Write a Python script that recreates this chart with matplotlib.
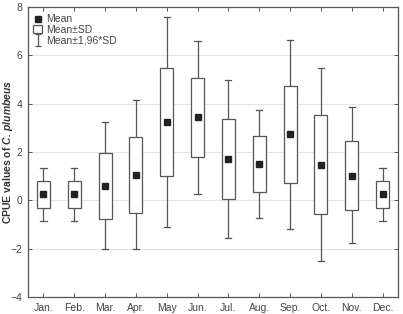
"""
plot.py - monthly CPUE box chart (mean, mean±SD, mean±1.96*SD).
"""

import matplotlib
matplotlib.use("Agg")
import matplotlib.pyplot as plt
from matplotlib.lines import Line2D
from matplotlib.patches import Patch, Rectangle
from matplotlib.path import Path

months = ["Jan.", "Feb.", "Mar.", "Apr.", "May", "Jun.",
          "Jul.", "Aug.", "Sep.", "Oct.", "Nov.", "Dec."]
mean = [0.27, 0.27, 0.60, 1.05, 3.25, 3.43, 1.72, 1.49, 2.74, 1.48, 1.02, 0.26]
sd_hi = [0.79, 0.79, 1.95, 2.63, 5.46, 5.05, 3.38, 2.66, 4.73, 3.54, 2.46, 0.80]
sd_lo = [-0.32, -0.32, -0.76, -0.51, 1.02, 1.80, 0.06, 0.35, 0.73, -0.55, -0.41, -0.32]
ci_hi = [1.34, 1.34, 3.24, 4.15, 7.60, 6.60, 4.97, 3.75, 6.64, 5.49, 3.86, 1.34]
ci_lo = [-0.84, -0.84, -2.02, -2.02, -1.12, 0.27, -1.55, -0.73, -1.17, -2.51, -1.78, -0.84]

plt.rcParams["font.family"] = ["Liberation Sans", "DejaVu Sans"]
plt.rcParams["mathtext.fontset"] = "custom"
plt.rcParams["mathtext.bfit"] = "Liberation Sans:bold:italic"

LINE = "#555555"
TEXT = "#444444"

fig = plt.figure(figsize=(4.03, 3.14), dpi=100)
ax = fig.add_axes([0.0695, 0.054, 0.918, 0.924])

box_w = 0.42
cap_w = 0.2
for i, m in enumerate(mean):
    x = i + 1
    ax.plot([x, x], [sd_hi[i], ci_hi[i]], color=LINE, lw=0.9, zorder=2)
    ax.plot([x, x], [ci_lo[i], sd_lo[i]], color=LINE, lw=0.9, zorder=2)
    ax.plot([x - cap_w / 2, x + cap_w / 2], [ci_hi[i]] * 2, color=LINE, lw=0.9, zorder=2)
    ax.plot([x - cap_w / 2, x + cap_w / 2], [ci_lo[i]] * 2, color=LINE, lw=0.9, zorder=2)
    ax.add_patch(Rectangle((x - box_w / 2, sd_lo[i]), box_w, sd_hi[i] - sd_lo[i],
                           facecolor="white", edgecolor=LINE, lw=0.9, zorder=3))
ax.plot(range(1, 13), mean, ls="none", marker="s", ms=4.5, color="#222222", zorder=4)

ax.set_xlim(0.5, 12.5)
ax.set_ylim(-4, 8)
ax.set_xticks(range(1, 13))
ax.set_xticklabels(months)
ax.set_yticks(range(-4, 9, 2))
ax.yaxis.grid(True, color="#e4e4e4", lw=0.8)
ax.set_axisbelow(True)
ax.tick_params(direction="in", length=3, width=0.7, color=LINE,
               labelsize=7.5, labelcolor=TEXT, top=True, right=True, pad=4)
for s in ax.spines.values():
    s.set_color(LINE)
    s.set_linewidth(0.9)

ax.set_ylabel(r"CPUE values of $\mathbfit{C.\,plumbeus}$", fontsize=7.5,
              fontweight="bold", color="#333333", va="center")
ax.yaxis.set_label_coords(-0.053, 0.5)

ibeam = Path([(-0.5, 1), (0.5, 1), (0, 1), (0, -1), (-0.5, -1), (0.5, -1)],
             [Path.MOVETO, Path.LINETO, Path.MOVETO, Path.LINETO, Path.MOVETO, Path.LINETO])
handles = [
    Line2D([], [], ls="none", marker="s", ms=4, color="#222222"),
    Patch(facecolor="white", edgecolor=LINE, lw=0.9),
    Line2D([], [], ls="none", marker=ibeam, ms=8, mew=0.9, color=LINE, fillstyle="none"),
]
ax.legend(handles, ["Mean", "Mean±SD", "Mean±1,96*SD"], loc="upper left",
          frameon=False, fontsize=7.5, labelcolor=TEXT, handlelength=0.8,
          handletextpad=0.4, labelspacing=0.05, borderaxespad=0.3,
          bbox_to_anchor=(-0.005, 1.0))

fig.savefig("out.png", dpi=100)
